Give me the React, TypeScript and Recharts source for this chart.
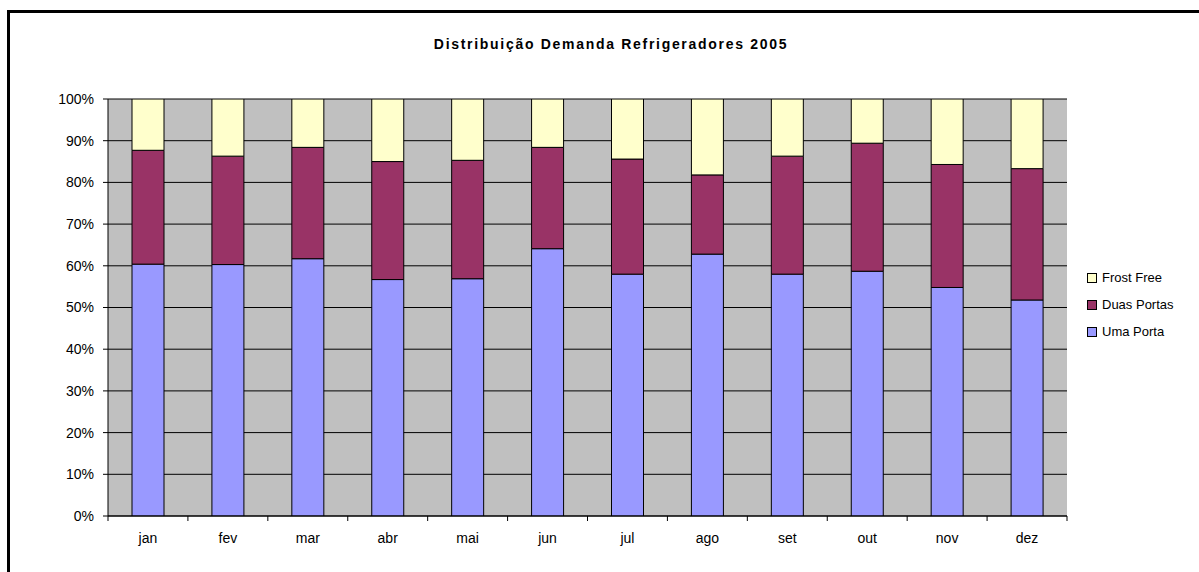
import React from 'react';
import { BarChart, Bar, XAxis, YAxis, CartesianGrid } from 'recharts';

const months = ['jan', 'fev', 'mar', 'abr', 'mai', 'jun', 'jul', 'ago', 'set', 'out', 'nov', 'dez'];
// shares in % per month
const umaPorta = [60.4, 60.3, 61.7, 56.7, 56.9, 64.1, 58.0, 62.8, 58.0, 58.7, 54.8, 51.8];
const duasPortas = [27.3, 26.0, 26.7, 28.3, 28.4, 24.3, 27.6, 19.0, 28.3, 30.7, 29.5, 31.5];
const frostFree = [12.3, 13.7, 11.6, 15.0, 14.7, 11.6, 14.4, 18.2, 13.7, 10.6, 15.7, 16.7];
const yTicks = [0, 10, 20, 30, 40, 50, 60, 70, 80, 90, 100];

const series = [
    { key: 'frost', name: 'Frost Free', color: '#FFFFCC' },
    { key: 'duas', name: 'Duas Portas', color: '#993366' },
    { key: 'uma', name: 'Uma Porta', color: '#9999FF' },
];

const data = months.map((m, i) => ({
    m,
    uma: umaPorta[i],
    duas: duasPortas[i],
    frost: frostFree[i],
}));

const font = '"Liberation Sans", Arial, sans-serif';
const W = 1199, H = 572;
const margin = { top: 99, right: 132, bottom: 26, left: 48 };
const yAxisW = 60;
const band = (W - margin.left - yAxisW - margin.right) / months.length;

// category label plus the little tick marks on the category boundaries (Excel style)
const MonthTick = (props: any) => {
    const { x, y, payload, index } = props;
    const axisY = H - margin.bottom - 30;
    return (
        <g>
            <line x1={x - band / 2} x2={x - band / 2} y1={axisY} y2={axisY + 5} stroke="#000" />
            {index === months.length - 1 && (
                <line x1={x + band / 2} x2={x + band / 2} y1={axisY} y2={axisY + 5} stroke="#000" />
            )}
            <text x={x} y={y} dy="0.71em" textAnchor="middle" fill="#000" fontSize={14} fontFamily={font}>
                {payload.value}
            </text>
        </g>
    );
};

const LegendBox = () => (
    <div style={{ position: 'absolute', left: 1087, top: 264, fontFamily: font, fontSize: 13, color: '#000' }}>
        {series.map(s => (
            <div key={s.key} style={{ display: 'flex', alignItems: 'center', height: 27 }}>
                <span style={{ width: 8, height: 8, background: s.color, border: '1px solid #000', marginRight: 5 }} />
                <span>{s.name}</span>
            </div>
        ))}
    </div>
);

export default function App() {
    return (
        <div style={{ position: 'absolute', left: 0, top: 0, width: W, height: H, background: '#fff', overflow: 'hidden' }}>
            <div style={{ position: 'absolute', left: 7, top: 10, width: 1250, height: 620, borderLeft: '3px solid #000', borderTop: '3px solid #000' }} />
            <div style={{ position: 'absolute', left: 0, width: 1222, top: 36, textAlign: 'center', fontFamily: font, fontWeight: 'bold', fontSize: 14, letterSpacing: 1.7 }}>
                Distribuição Demanda Refrigeradores 2005
            </div>
            <div style={{ position: 'absolute', left: 0, top: 0 }}>
                <BarChart width={W} height={H} data={data} margin={margin}>
                    <CartesianGrid vertical={false} fill="#C0C0C0" stroke="#000" yAxisId="left" />
                    <XAxis dataKey="m" height={30} stroke="#000" tickLine={false} tickSize={6} tickMargin={11}
                        tick={<MonthTick />} interval={0} />
                    <YAxis yAxisId="left" domain={[0, 100]} ticks={yTicks} tickFormatter={(v: number) => `${v}%`}
                        width={yAxisW} tickSize={5} tickMargin={9} stroke="#000" allowDataOverflow interval={0}
                        tick={{ fill: '#000', fontSize: 14, fontFamily: font }} />
                    <YAxis yAxisId="right" orientation="right" domain={[0, 100]} width={0} tick={false}
                        tickLine={false} stroke="#808080" />
                    {series.slice().reverse().map(s => (
                        <Bar key={s.key} dataKey={s.key} name={s.name} stackId="a" fill={s.color} stroke="#000"
                            strokeWidth={1} barSize={32} yAxisId="left" isAnimationActive={false} />
                    ))}
                </BarChart>
            </div>
            <LegendBox />
        </div>
    );
}
